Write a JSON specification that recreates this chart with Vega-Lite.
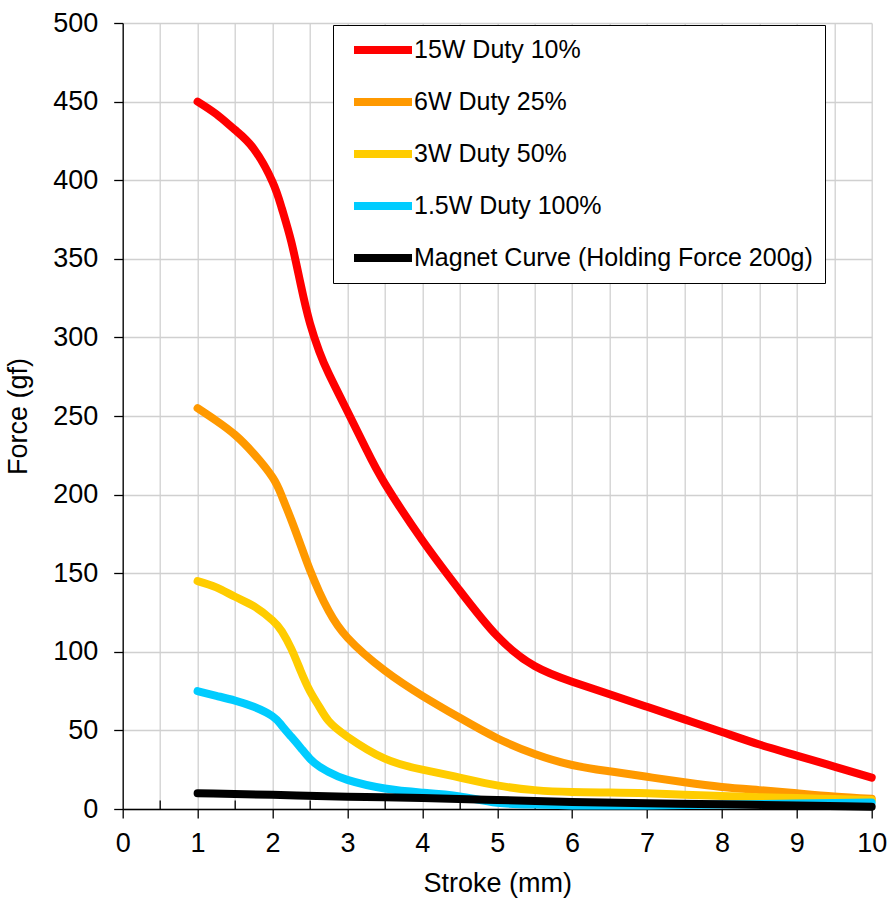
{
  "$schema": "https://vega.github.io/schema/vega-lite/v6.json",
  "width": 749,
  "height": 786,
  "autosize": {"type": "none"},
  "padding": {"left": 122.7, "top": 23, "right": 16.3, "bottom": 93},
  "background": "white",
  "view": {"stroke": null},
  "config": {
    "font": "Liberation Sans",
    "axis": {
      "labelFont": "Liberation Sans",
      "titleFont": "Liberation Sans",
      "labelColor": "#000000",
      "titleColor": "#000000",
      "titleFontWeight": "normal",
      "domainColor": "#000000",
      "domainWidth": 1.3,
      "tickColor": "#000000",
      "tickWidth": 1.3,
      "gridColor": "#D0D0D0",
      "gridWidth": 1.3
    }
  },
  "data": {
    "values": [
      {"series": "15W Duty 10%", "stroke": 1, "force": 450},
      {"series": "15W Duty 10%", "stroke": 1.25, "force": 442},
      {"series": "15W Duty 10%", "stroke": 1.5, "force": 432},
      {"series": "15W Duty 10%", "stroke": 1.75, "force": 420},
      {"series": "15W Duty 10%", "stroke": 2, "force": 399},
      {"series": "15W Duty 10%", "stroke": 2.125, "force": 382},
      {"series": "15W Duty 10%", "stroke": 2.25, "force": 361},
      {"series": "15W Duty 10%", "stroke": 2.375, "force": 334},
      {"series": "15W Duty 10%", "stroke": 2.5, "force": 309},
      {"series": "15W Duty 10%", "stroke": 2.625, "force": 291},
      {"series": "15W Duty 10%", "stroke": 2.75, "force": 277},
      {"series": "15W Duty 10%", "stroke": 3, "force": 253},
      {"series": "15W Duty 10%", "stroke": 3.25, "force": 229},
      {"series": "15W Duty 10%", "stroke": 3.5, "force": 207},
      {"series": "15W Duty 10%", "stroke": 4, "force": 171},
      {"series": "15W Duty 10%", "stroke": 4.5, "force": 139},
      {"series": "15W Duty 10%", "stroke": 5, "force": 110},
      {"series": "15W Duty 10%", "stroke": 5.5, "force": 91},
      {"series": "15W Duty 10%", "stroke": 6, "force": 81},
      {"series": "15W Duty 10%", "stroke": 6.5, "force": 73},
      {"series": "15W Duty 10%", "stroke": 7, "force": 65},
      {"series": "15W Duty 10%", "stroke": 7.5, "force": 57},
      {"series": "15W Duty 10%", "stroke": 8, "force": 49},
      {"series": "15W Duty 10%", "stroke": 8.5, "force": 41},
      {"series": "15W Duty 10%", "stroke": 9, "force": 34},
      {"series": "15W Duty 10%", "stroke": 9.5, "force": 27},
      {"series": "15W Duty 10%", "stroke": 10, "force": 20},
      {"series": "6W Duty 25%", "stroke": 1, "force": 255},
      {"series": "6W Duty 25%", "stroke": 1.25, "force": 247},
      {"series": "6W Duty 25%", "stroke": 1.5, "force": 238},
      {"series": "6W Duty 25%", "stroke": 1.75, "force": 226},
      {"series": "6W Duty 25%", "stroke": 2, "force": 211},
      {"series": "6W Duty 25%", "stroke": 2.125, "force": 199},
      {"series": "6W Duty 25%", "stroke": 2.25, "force": 184},
      {"series": "6W Duty 25%", "stroke": 2.375, "force": 168},
      {"series": "6W Duty 25%", "stroke": 2.5, "force": 152},
      {"series": "6W Duty 25%", "stroke": 2.625, "force": 138},
      {"series": "6W Duty 25%", "stroke": 2.75, "force": 126},
      {"series": "6W Duty 25%", "stroke": 3, "force": 109},
      {"series": "6W Duty 25%", "stroke": 3.5, "force": 88},
      {"series": "6W Duty 25%", "stroke": 4, "force": 72},
      {"series": "6W Duty 25%", "stroke": 4.5, "force": 58},
      {"series": "6W Duty 25%", "stroke": 5, "force": 45},
      {"series": "6W Duty 25%", "stroke": 5.5, "force": 35},
      {"series": "6W Duty 25%", "stroke": 6, "force": 28},
      {"series": "6W Duty 25%", "stroke": 6.5, "force": 24},
      {"series": "6W Duty 25%", "stroke": 7, "force": 20.5},
      {"series": "6W Duty 25%", "stroke": 7.5, "force": 17},
      {"series": "6W Duty 25%", "stroke": 8, "force": 14},
      {"series": "6W Duty 25%", "stroke": 8.5, "force": 12},
      {"series": "6W Duty 25%", "stroke": 9, "force": 10},
      {"series": "6W Duty 25%", "stroke": 9.5, "force": 8},
      {"series": "6W Duty 25%", "stroke": 10, "force": 6.5},
      {"series": "3W Duty 50%", "stroke": 1, "force": 145},
      {"series": "3W Duty 50%", "stroke": 1.25, "force": 141},
      {"series": "3W Duty 50%", "stroke": 1.5, "force": 135},
      {"series": "3W Duty 50%", "stroke": 1.75, "force": 129},
      {"series": "3W Duty 50%", "stroke": 2, "force": 120},
      {"series": "3W Duty 50%", "stroke": 2.125, "force": 113},
      {"series": "3W Duty 50%", "stroke": 2.25, "force": 102},
      {"series": "3W Duty 50%", "stroke": 2.375, "force": 88},
      {"series": "3W Duty 50%", "stroke": 2.5, "force": 75},
      {"series": "3W Duty 50%", "stroke": 2.625, "force": 65},
      {"series": "3W Duty 50%", "stroke": 2.75, "force": 56},
      {"series": "3W Duty 50%", "stroke": 3, "force": 46},
      {"series": "3W Duty 50%", "stroke": 3.5, "force": 32},
      {"series": "3W Duty 50%", "stroke": 4, "force": 25},
      {"series": "3W Duty 50%", "stroke": 4.5, "force": 20},
      {"series": "3W Duty 50%", "stroke": 5, "force": 15},
      {"series": "3W Duty 50%", "stroke": 5.5, "force": 12},
      {"series": "3W Duty 50%", "stroke": 6, "force": 10.8},
      {"series": "3W Duty 50%", "stroke": 6.5, "force": 10.5},
      {"series": "3W Duty 50%", "stroke": 7, "force": 10},
      {"series": "3W Duty 50%", "stroke": 7.5, "force": 9},
      {"series": "3W Duty 50%", "stroke": 8, "force": 8.3},
      {"series": "3W Duty 50%", "stroke": 8.5, "force": 7.5},
      {"series": "3W Duty 50%", "stroke": 9, "force": 7},
      {"series": "3W Duty 50%", "stroke": 9.5, "force": 6.3},
      {"series": "3W Duty 50%", "stroke": 10, "force": 5.7},
      {"series": "1.5W Duty 100%", "stroke": 1, "force": 75},
      {"series": "1.5W Duty 100%", "stroke": 1.25, "force": 72},
      {"series": "1.5W Duty 100%", "stroke": 1.5, "force": 69},
      {"series": "1.5W Duty 100%", "stroke": 1.75, "force": 65},
      {"series": "1.5W Duty 100%", "stroke": 2, "force": 59},
      {"series": "1.5W Duty 100%", "stroke": 2.125, "force": 53},
      {"series": "1.5W Duty 100%", "stroke": 2.25, "force": 46},
      {"series": "1.5W Duty 100%", "stroke": 2.375, "force": 39},
      {"series": "1.5W Duty 100%", "stroke": 2.5, "force": 32},
      {"series": "1.5W Duty 100%", "stroke": 2.625, "force": 27},
      {"series": "1.5W Duty 100%", "stroke": 2.75, "force": 23.5},
      {"series": "1.5W Duty 100%", "stroke": 3, "force": 18.5},
      {"series": "1.5W Duty 100%", "stroke": 3.5, "force": 13},
      {"series": "1.5W Duty 100%", "stroke": 4, "force": 10.4},
      {"series": "1.5W Duty 100%", "stroke": 4.5, "force": 8},
      {"series": "1.5W Duty 100%", "stroke": 5, "force": 4},
      {"series": "1.5W Duty 100%", "stroke": 5.5, "force": 2.8},
      {"series": "1.5W Duty 100%", "stroke": 6, "force": 2.3},
      {"series": "1.5W Duty 100%", "stroke": 7, "force": 2.3},
      {"series": "1.5W Duty 100%", "stroke": 8, "force": 2.8},
      {"series": "1.5W Duty 100%", "stroke": 9, "force": 3.5},
      {"series": "1.5W Duty 100%", "stroke": 10, "force": 4.2},
      {"series": "Magnet Curve (Holding Force 200g)", "stroke": 1, "force": 10},
      {"series": "Magnet Curve (Holding Force 200g)", "stroke": 2, "force": 9},
      {"series": "Magnet Curve (Holding Force 200g)", "stroke": 3, "force": 7.8},
      {"series": "Magnet Curve (Holding Force 200g)", "stroke": 4, "force": 7},
      {"series": "Magnet Curve (Holding Force 200g)", "stroke": 5, "force": 5.7},
      {"series": "Magnet Curve (Holding Force 200g)", "stroke": 6, "force": 4.5},
      {"series": "Magnet Curve (Holding Force 200g)", "stroke": 7, "force": 3.7},
      {"series": "Magnet Curve (Holding Force 200g)", "stroke": 8, "force": 3},
      {"series": "Magnet Curve (Holding Force 200g)", "stroke": 9, "force": 2.2},
      {"series": "Magnet Curve (Holding Force 200g)", "stroke": 10, "force": 1.5}
    ]
  },
  "mark": {"type": "line", "interpolate": "natural", "strokeCap": "round", "strokeJoin": "round"},
  "encoding": {
    "x": {
      "field": "stroke",
      "type": "quantitative",
      "scale": {"domain": [0, 10], "nice": false, "zero": false},
      "axis": {
        "title": "Stroke (mm)",
        "values": [0, 0.5, 1, 1.5, 2, 2.5, 3, 3.5, 4, 4.5, 5, 5.5, 6, 6.5, 7, 7.5, 8, 8.5, 9, 9.5, 10],
        "labelExpr": "datum.value % 1 === 0 ? format(datum.value, 'd') : ''",
        "labelFontSize": 27,
        "labelPadding": 12,
        "labelFlush": false,
        "labelOverlap": false,
        "tickSize": {"condition": {"test": "datum.value % 1 === 0", "value": 9}, "value": -9},
        "titleFontSize": 27,
        "titlePadding": 14
      }
    },
    "y": {
      "field": "force",
      "type": "quantitative",
      "scale": {"domain": [0, 500], "nice": false},
      "axis": {
        "title": "Force (gf)",
        "values": [0, 50, 100, 150, 200, 250, 300, 350, 400, 450, 500],
        "labelFontSize": 27,
        "labelPadding": 16,
        "tickSize": 9,
        "labelFlush": false,
        "labelOverlap": false,
        "titleFontSize": 27,
        "titlePadding": 20
      }
    },
    "color": {
      "field": "series",
      "type": "nominal",
      "sort": null,
      "scale": {
        "domain": ["15W Duty 10%", "6W Duty 25%", "3W Duty 50%", "1.5W Duty 100%", "Magnet Curve (Holding Force 200g)"],
        "range": ["#FF0000", "#FF9900", "#FFCC00", "#00CCFF", "#000000"]
      },
      "legend": {
        "title": null,
        "orient": "none",
        "legendX": 210.3,
        "legendY": 2,
        "fillColor": "white",
        "strokeColor": "#000000",
        "padding": 12,
        "symbolOffset": 5,
        "symbolType": "stroke",
        "symbolSize": 3364,
        "symbolStrokeWidth": 8,
        "clipHeight": 26,
        "rowPadding": 26,
        "labelFont": "Liberation Sans",
        "labelFontSize": 25,
        "labelColor": "#000000",
        "labelOffset": -2,
        "labelLimit": 600
      }
    },
    "strokeWidth": {
      "field": "series",
      "type": "nominal",
      "scale": {
        "domain": ["15W Duty 10%", "6W Duty 25%", "3W Duty 50%", "1.5W Duty 100%", "Magnet Curve (Holding Force 200g)"],
        "range": [8, 8, 8, 8, 6]
      },
      "legend": null
    }
  }
}
